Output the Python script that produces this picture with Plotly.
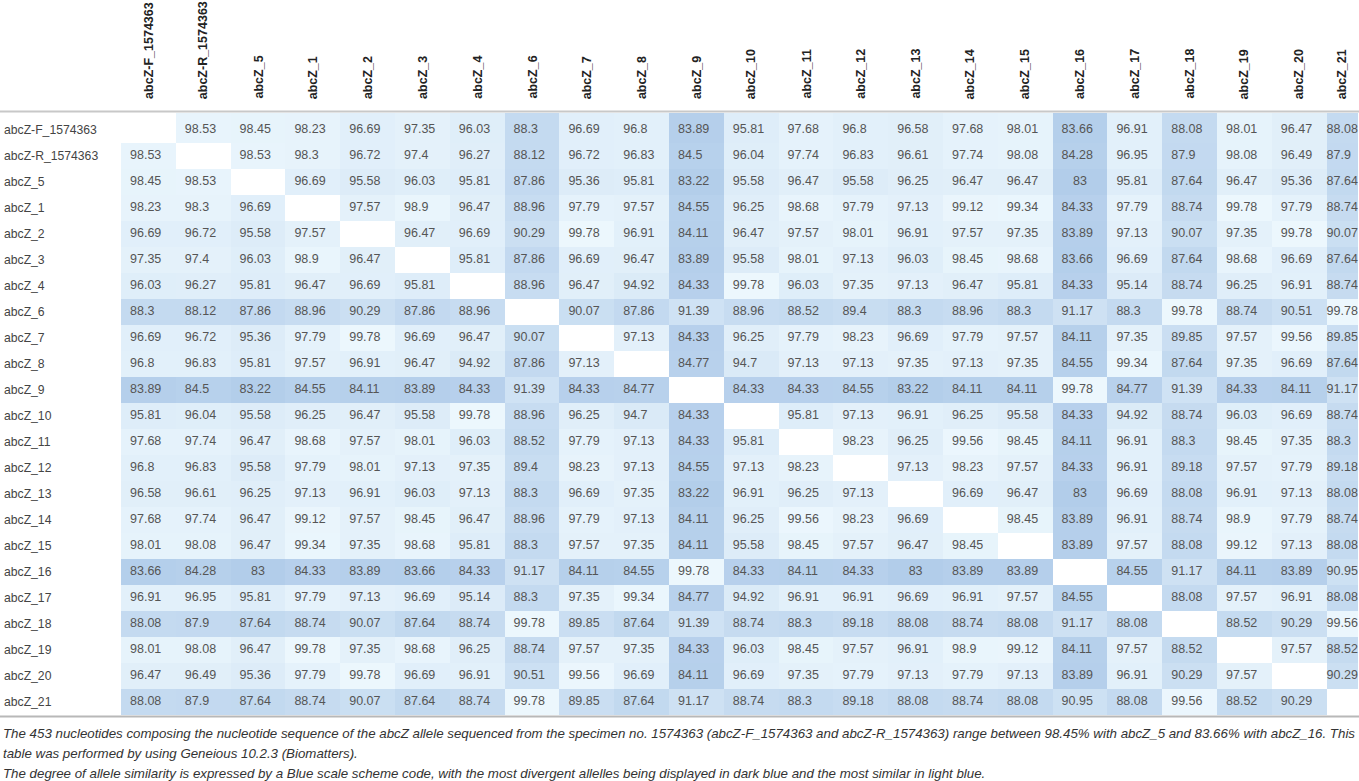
import plotly.graph_objects as go

labels = ["abcZ-F_1574363", "abcZ-R_1574363", "abcZ_5", "abcZ_1", "abcZ_2", "abcZ_3",
          "abcZ_4", "abcZ_6", "abcZ_7", "abcZ_8", "abcZ_9", "abcZ_10", "abcZ_11",
          "abcZ_12", "abcZ_13", "abcZ_14", "abcZ_15", "abcZ_16", "abcZ_17", "abcZ_18",
          "abcZ_19", "abcZ_20", "abcZ_21"]

N = None
row_F = [N, 98.53, 98.45, 98.23, 96.69, 97.35, 96.03, 88.3, 96.69, 96.8, 83.89, 95.81, 97.68, 96.8, 96.58, 97.68, 98.01, 83.66, 96.91, 88.08, 98.01, 96.47, 88.08]
row_R = [98.53, N, 98.53, 98.3, 96.72, 97.4, 96.27, 88.12, 96.72, 96.83, 84.5, 96.04, 97.74, 96.83, 96.61, 97.74, 98.08, 84.28, 96.95, 87.9, 98.08, 96.49, 87.9]
row_5 = [98.45, 98.53, N, 96.69, 95.58, 96.03, 95.81, 87.86, 95.36, 95.81, 83.22, 95.58, 96.47, 95.58, 96.25, 96.47, 96.47, 83, 95.81, 87.64, 96.47, 95.36, 87.64]
row_1 = [98.23, 98.3, 96.69, N, 97.57, 98.9, 96.47, 88.96, 97.79, 97.57, 84.55, 96.25, 98.68, 97.79, 97.13, 99.12, 99.34, 84.33, 97.79, 88.74, 99.78, 97.79, 88.74]
row_2 = [96.69, 96.72, 95.58, 97.57, N, 96.47, 96.69, 90.29, 99.78, 96.91, 84.11, 96.47, 97.57, 98.01, 96.91, 97.57, 97.35, 83.89, 97.13, 90.07, 97.35, 99.78, 90.07]
row_3 = [97.35, 97.4, 96.03, 98.9, 96.47, N, 95.81, 87.86, 96.69, 96.47, 83.89, 95.58, 98.01, 97.13, 96.03, 98.45, 98.68, 83.66, 96.69, 87.64, 98.68, 96.69, 87.64]
row_4 = [96.03, 96.27, 95.81, 96.47, 96.69, 95.81, N, 88.96, 96.47, 94.92, 84.33, 99.78, 96.03, 97.35, 97.13, 96.47, 95.81, 84.33, 95.14, 88.74, 96.25, 96.91, 88.74]
row_6 = [88.3, 88.12, 87.86, 88.96, 90.29, 87.86, 88.96, N, 90.07, 87.86, 91.39, 88.96, 88.52, 89.4, 88.3, 88.96, 88.3, 91.17, 88.3, 99.78, 88.74, 90.51, 99.78]
row_7 = [96.69, 96.72, 95.36, 97.79, 99.78, 96.69, 96.47, 90.07, N, 97.13, 84.33, 96.25, 97.79, 98.23, 96.69, 97.79, 97.57, 84.11, 97.35, 89.85, 97.57, 99.56, 89.85]
row_8 = [96.8, 96.83, 95.81, 97.57, 96.91, 96.47, 94.92, 87.86, 97.13, N, 84.77, 94.7, 97.13, 97.13, 97.35, 97.13, 97.35, 84.55, 99.34, 87.64, 97.35, 96.69, 87.64]
row_9 = [83.89, 84.5, 83.22, 84.55, 84.11, 83.89, 84.33, 91.39, 84.33, 84.77, N, 84.33, 84.33, 84.55, 83.22, 84.11, 84.11, 99.78, 84.77, 91.39, 84.33, 84.11, 91.17]
row_10 = [95.81, 96.04, 95.58, 96.25, 96.47, 95.58, 99.78, 88.96, 96.25, 94.7, 84.33, N, 95.81, 97.13, 96.91, 96.25, 95.58, 84.33, 94.92, 88.74, 96.03, 96.69, 88.74]
row_11 = [97.68, 97.74, 96.47, 98.68, 97.57, 98.01, 96.03, 88.52, 97.79, 97.13, 84.33, 95.81, N, 98.23, 96.25, 99.56, 98.45, 84.11, 96.91, 88.3, 98.45, 97.35, 88.3]
row_12 = [96.8, 96.83, 95.58, 97.79, 98.01, 97.13, 97.35, 89.4, 98.23, 97.13, 84.55, 97.13, 98.23, N, 97.13, 98.23, 97.57, 84.33, 96.91, 89.18, 97.57, 97.79, 89.18]
row_13 = [96.58, 96.61, 96.25, 97.13, 96.91, 96.03, 97.13, 88.3, 96.69, 97.35, 83.22, 96.91, 96.25, 97.13, N, 96.69, 96.47, 83, 96.69, 88.08, 96.91, 97.13, 88.08]
row_14 = [97.68, 97.74, 96.47, 99.12, 97.57, 98.45, 96.47, 88.96, 97.79, 97.13, 84.11, 96.25, 99.56, 98.23, 96.69, N, 98.45, 83.89, 96.91, 88.74, 98.9, 97.79, 88.74]
row_15 = [98.01, 98.08, 96.47, 99.34, 97.35, 98.68, 95.81, 88.3, 97.57, 97.35, 84.11, 95.58, 98.45, 97.57, 96.47, 98.45, N, 83.89, 97.57, 88.08, 99.12, 97.13, 88.08]
row_16 = [83.66, 84.28, 83, 84.33, 83.89, 83.66, 84.33, 91.17, 84.11, 84.55, 99.78, 84.33, 84.11, 84.33, 83, 83.89, 83.89, N, 84.55, 91.17, 84.11, 83.89, 90.95]
row_17 = [96.91, 96.95, 95.81, 97.79, 97.13, 96.69, 95.14, 88.3, 97.35, 99.34, 84.77, 94.92, 96.91, 96.91, 96.69, 96.91, 97.57, 84.55, N, 88.08, 97.57, 96.91, 88.08]
row_18 = [88.08, 87.9, 87.64, 88.74, 90.07, 87.64, 88.74, 99.78, 89.85, 87.64, 91.39, 88.74, 88.3, 89.18, 88.08, 88.74, 88.08, 91.17, 88.08, N, 88.52, 90.29, 99.56]
row_19 = [98.01, 98.08, 96.47, 99.78, 97.35, 98.68, 96.25, 88.74, 97.57, 97.35, 84.33, 96.03, 98.45, 97.57, 96.91, 98.9, 99.12, 84.11, 97.57, 88.52, N, 97.57, 88.52]
row_20 = [96.47, 96.49, 95.36, 97.79, 99.78, 96.69, 96.91, 90.51, 99.56, 96.69, 84.11, 96.69, 97.35, 97.79, 97.13, 97.79, 97.13, 83.89, 96.91, 90.29, 97.57, N, 90.29]
row_21 = [88.08, 87.9, 87.64, 88.74, 90.07, 87.64, 88.74, 99.78, 89.85, 87.64, 91.17, 88.74, 88.3, 89.18, 88.08, 88.74, 88.08, 90.95, 88.08, 99.56, 88.52, 90.29, N]

caption_lines = [
    "The 453 nucleotides composing the nucleotide sequence of the abcZ allele sequenced from the specimen no. 1574363 (abcZ-F_1574363 and abcZ-R_1574363) range between 98.45% with abcZ_5 and 83.66% with abcZ_16. This",
    "table was performed by using Geneious 10.2.3 (Biomatters).",
    "The degree of allele similarity is expressed by a Blue scale scheme code, with the most divergent allelles being displayed in dark blue and the most similar in light blue.",
]

matrix = [row_F, row_R, row_5, row_1, row_2, row_3, row_4, row_6, row_7, row_8, row_9,
          row_10, row_11, row_12, row_13, row_14, row_15, row_16, row_17, row_18,
          row_19, row_20, row_21]

# ---- layout geometry (pixel space) ----
W, H = 1359, 781
COL_LEFT, COL_W, LAST_RIGHT = 121, 54.8, 1358
ROW_TOP, ROW_H, HEAD_LINE = 117, 26, 113
n = len(labels)
x_edges = [COL_LEFT + COL_W * i for i in range(n)] + [LAST_RIGHT]
y_edges = [HEAD_LINE] + [ROW_TOP + ROW_H * (i + 1) for i in range(n)]
x_centers = [(x_edges[i] + x_edges[i + 1]) / 2 for i in range(n)]
y_centers = [(y_edges[i] + y_edges[i + 1]) / 2 for i in range(n)]
y_centers[0] = ROW_TOP + ROW_H / 2

FONT = "Liberation Sans, Arial, Helvetica, sans-serif"

fig = go.Figure()
fig.add_trace(go.Heatmap(
    x=x_edges, y=y_edges, z=matrix,
    zmin=83, zmax=99.78,
    colorscale=[[0, "rgb(178,205,234)"], [1, "rgb(236,247,253)"]],
    showscale=False, hoverongaps=False, xgap=0, ygap=0,
))


def fmt(v):
    return str(int(v)) if float(v).is_integer() else f"{v:g}"


tx, ty, tt, tp = [], [], [], []
for r, row in enumerate(matrix):
    for c, v in enumerate(row):
        if v is None:
            continue
        tt.append(fmt(v))
        ty.append(y_centers[r])
        if float(v).is_integer():
            tx.append(x_centers[c])
            tp.append("middle center")
        else:
            pad = 9 if c < n - 1 else 0
            tx.append(x_edges[c] + pad)
            tp.append("middle right")

fig.add_trace(go.Scatter(
    x=tx, y=ty, text=tt, mode="text", textposition=tp,
    textfont=dict(family=FONT, size=12.5, color="#555555"),
    hoverinfo="skip", showlegend=False,
))

annotations = []
for i, lab in enumerate(labels):
    annotations.append(dict(
        x=x_centers[i], y=101, xref="x", yref="y", text=f"<b>{lab}</b>",
        textangle=-90, showarrow=False, xanchor="center", yanchor="bottom",
        font=dict(family=FONT, size=12.5, color="#222222"),
    ))
    annotations.append(dict(
        x=2, y=y_centers[i], xref="x", yref="y", text=lab, showarrow=False,
        xanchor="left", yanchor="middle",
        font=dict(family=FONT, size=12.2, color="#444444"),
    ))
for j, line in enumerate(caption_lines):
    annotations.append(dict(
        x=1, y=733 + 20 * j, xref="x", yref="y", text=f"<i>{line}</i>",
        showarrow=False, xanchor="left", yanchor="middle",
        font=dict(family=FONT, size=13.3, color="#333333"),
    ))

shapes = [
    dict(type="line", xref="x", yref="y", x0=0, x1=W, y0=111.5, y1=111.5,
         line=dict(color="#c8c8c8", width=2)),
    dict(type="line", xref="x", yref="y", x0=0, x1=W, y0=y_edges[-1] + 1.5,
         y1=y_edges[-1] + 1.5, line=dict(color="#b8b8b8", width=2)),
]

fig.update_layout(
    width=W, height=H, margin=dict(l=0, r=0, t=0, b=0),
    paper_bgcolor="white", plot_bgcolor="white",
    xaxis=dict(range=[0, W], visible=False, fixedrange=True),
    yaxis=dict(range=[H, 0], visible=False, fixedrange=True),
    annotations=annotations, shapes=shapes, showlegend=False,
)

fig.write_html(
    "out.html",
    config={"displayModeBar": False},
    post_script="document.body.style.margin='0';document.body.style.overflow='hidden';",
)
